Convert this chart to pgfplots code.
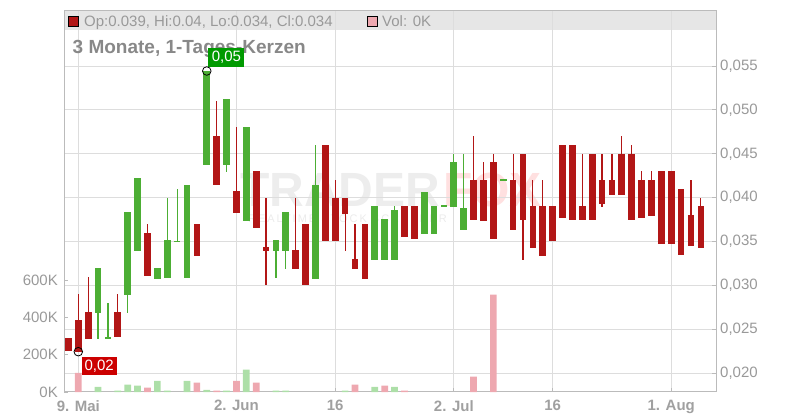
\documentclass[border=0pt]{standalone}
\usepackage{fontspec}
\setmainfont{Liberation Sans}
\usepackage{pgfplots}
\usepackage{pgfplotstable}
\pgfplotsset{compat=1.18}

\definecolor{cred}{HTML}{B21616}
\definecolor{cgreen}{HTML}{4CAE34}
\definecolor{vpink}{HTML}{EEA8B0}
\definecolor{vgreen}{HTML}{ADDFA8}
\definecolor{gridc}{HTML}{DDDDDD}
\definecolor{framec}{HTML}{BBBBBB}
\definecolor{txt}{HTML}{999999}
\definecolor{txtd}{HTML}{A0A0A0}
\definecolor{ttl}{HTML}{888888}
\definecolor{band}{HTML}{E6E6E6}
\definecolor{lblg}{HTML}{009A00}
\definecolor{lblr}{HTML}{CC0000}

% prices in 1/1000 (0.001) units: i open high low close
\pgfplotstableread{
i o h l c
-1 23.99 23.99 22.54 22.54
0 26.04 29.01 22.43 22.43
1 26.95 30.95 23.91 23.91
4 26.95 29.01 24.14 24.14
7 35.93 36.95 31.09 31.09
12 36.99 36.99 33.34 33.34
14 47.02 51.05 41.47 41.47
16 40.78 48.08 38.28 38.28
18 43.03 43.03 36.57 36.57
19 34.37 39.92 30.00 33.94
22 34.02 39.92 31.89 31.89
23 36.99 36.99 30.00 30.00
25 46.00 46.00 35.08 35.08
26 39.92 42.00 35.08 35.08
27 39.92 39.92 33.94 38.16
28 33.00 36.99 31.86 31.86
29 36.99 36.99 30.75 30.75
33 39.04 39.04 35.54 35.54
34 39.04 39.04 35.31 35.31
40 42.00 47.02 37.48 37.48
41 42.00 44.06 37.36 37.36
42 44.06 44.97 35.31 35.31
44 42.00 44.97 36.34 36.34
45 44.97 44.97 32.92 37.48
46 39.04 42.00 34.29 34.29
47 39.04 42.00 33.37 33.37
48 39.04 39.04 35.08 35.08
49 46.00 46.00 37.71 37.71
50 46.00 46.00 37.48 37.48
51 39.04 44.97 37.48 37.48
52 44.97 44.97 37.48 37.48
53 42.00 44.97 38.96 39.30
54 42.00 44.97 40.33 40.33
55 44.97 47.02 40.33 40.33
56 44.97 46.00 37.48 37.48
57 42.00 43.03 37.71 37.71
58 42.00 43.03 37.93 37.93
59 43.03 43.03 34.74 34.74
60 43.03 43.03 34.74 34.74
61 40.98 40.98 33.49 33.49
62 38.01 42.00 34.51 34.51
63 39.04 39.95 34.29 34.29
}\redtab

\pgfplotstableread{
i o h l c
2 26.87 31.97 23.91 31.97
3 23.95 27.98 23.95 24.10
5 28.93 38.36 26.87 38.36
6 33.94 42.23 33.94 42.23
8 30.75 31.97 30.75 31.97
9 30.87 39.92 30.87 35.16
10 34.95 40.98 34.95 35.10
11 30.87 41.43 30.87 41.43
13 43.75 54.43 43.75 54.43
15 43.75 51.27 42.95 51.27
17 37.36 48.08 37.36 48.08
20 33.94 35.16 30.87 35.16
21 33.94 38.36 31.89 38.36
24 30.75 46.00 30.75 41.43
30 32.88 39.04 32.88 39.04
31 32.88 37.56 32.88 37.56
32 32.88 39.04 32.88 38.58
35 35.88 40.64 35.88 40.64
36 35.88 39.04 35.88 39.04
37 39.00 39.15 39.00 39.15
38 38.96 44.97 38.96 44.06
39 36.34 44.97 36.34 38.81
43 41.93 42.07 41.93 42.07
}\greentab

% volume in thousands
\pgfplotstableread{
i v
0 103
7 23
12 50
14 7
16 60
18 50
28 39
31 34
33 7
40 82
42 522
}\volpink

\pgfplotstableread{
i v
2 28
4 7
5 39
6 34
8 60
9 7
11 60
13 12
15 7
17 120
20 7
21 7
27 7
30 28
32 28
}\volgreen

\pgfplotsset{
  geom/.style={at={(64pt,28pt)}, anchor=south west, width=652pt, height=381pt,
    scale only axis, xmin=-1.447, xmax=64.53},
  pricey/.style={ymin=17.834, ymax=61.273},
}

\begin{document}
\begin{tikzpicture}
\path[use as bounding box] (0pt,0pt) rectangle (800pt,420pt);

% watermark
\node[anchor=base west, inner sep=0pt, text=black!7, font=\fontsize{48}{48}\selectfont\bfseries] at (240pt,213pt) {TRADER};
\node[anchor=base west, inner sep=0pt, text=red!12, font=\fontsize{48}{48}\selectfont\bfseries] at (443pt,213pt) {FOX};
\node[anchor=base west, inner sep=0pt, text=black!8, font=\fontsize{11}{11}\selectfont\addfontfeatures{LetterSpace=18}] at (248pt,197pt) {REALTIME STOCK SCREENER};

% base axis: grid, frame, price ticks, dates
\begin{axis}[geom, pricey,
  axis on top,
  axis line style={framec, line width=1pt},
  xtick={0,16,26,38,48,60},
  xticklabels={9. Mai,2. Jun,16,2. Jul,16,1. Aug},
  ytick={20,25,30,35,40,45,50,55},
  yticklabels={{0,020},{0,025},{0,030},{0,035},{0,040},{0,045},{0,050},{0,055}},
  grid=major, major grid style={gridc, line width=1pt},
  tick style={framec, line width=1pt}, major tick length=4pt, tick align=inside,
  xtick pos=left, ytick pos=right, yticklabel pos=right,
  xticklabel style={font=\fontsize{15}{18}\selectfont\bfseries, text=txtd, anchor=north, inner sep=0pt, yshift=-8pt},
  yticklabel style={font=\fontsize{15}{18}\selectfont, text=txt, anchor=west, inner sep=0pt, xshift=4pt},
]
\fill[band] (axis cs:-1.447,59.106) rectangle (axis cs:64.53,61.273);
\end{axis}

% header legend and title
\draw[fill=cred, draw=black, line width=0.8pt] (68.5pt,393.5pt) rectangle (78.5pt,403.5pt);
\node[anchor=base west, inner sep=0pt, text=txt, font=\fontsize{15}{18}\selectfont] at (84pt,393.5pt) {Op:0.039, Hi:0.04, Lo:0.034, Cl:0.034};
\draw[fill=vpink, draw=black, line width=0.8pt] (367pt,393.5pt) rectangle (377pt,403.5pt);
\node[anchor=base west, inner sep=0pt, text=txt, font=\fontsize{15}{18}\selectfont] at (382pt,393.5pt) {Vol: 0K};
\node[anchor=base west, inner sep=0pt, text=ttl, font=\fontsize{19}{21}\selectfont\bfseries] at (72.5pt,366pt) {3 Monate, 1-Tages-Kerzen};

% volume axis
\begin{axis}[geom, ymin=0, ymax=2043,
  axis line style={draw=none},
  xtick=\empty,
  ytick={0,200,400,600}, yticklabels={0K,200K,400K,600K},
  ytick pos=left, tick align=inside, major tick length=4pt,
  tick style={framec, line width=1pt},
  yticklabel style={font=\fontsize{15}{18}\selectfont, text=txt, anchor=east, inner sep=0pt, xshift=-6pt},
]
\addplot[ybar, bar width=6.7pt, bar shift=0pt, fill=vpink, draw=none] table[x=i, y=v] {\volpink};
\addplot[ybar, bar width=6.7pt, bar shift=0pt, fill=vgreen, draw=none] table[x=i, y=v] {\volgreen};
\end{axis}

% candles
\begin{axis}[geom, pricey, hide axis, clip=false]
% wicks
\addplot[draw=none, mark=none, forget plot,
  error bars/.cd, y dir=both, y explicit, error mark=none,
  error bar style={draw=cred, line width=1.2pt}]
  table[x=i, y expr={0.5*(\thisrow{h}+\thisrow{l})},
        y error plus expr={0.5*(\thisrow{h}-\thisrow{l})},
        y error minus expr={0.5*(\thisrow{h}-\thisrow{l})}] {\redtab};
\addplot[draw=none, mark=none, forget plot,
  error bars/.cd, y dir=both, y explicit, error mark=none,
  error bar style={draw=cgreen, line width=1.2pt}]
  table[x=i, y expr={0.5*(\thisrow{h}+\thisrow{l})},
        y error plus expr={0.5*(\thisrow{h}-\thisrow{l})},
        y error minus expr={0.5*(\thisrow{h}-\thisrow{l})}] {\greentab};
% bodies
\addplot[draw=none, mark=none, forget plot,
  error bars/.cd, y dir=both, y explicit, error mark=none,
  error bar style={draw=cred, line width=6.7pt}]
  table[x=i, y expr={0.5*(\thisrow{o}+\thisrow{c})},
        y error plus expr={0.5*abs(\thisrow{o}-\thisrow{c})},
        y error minus expr={0.5*abs(\thisrow{o}-\thisrow{c})}] {\redtab};
\addplot[draw=none, mark=none, forget plot,
  error bars/.cd, y dir=both, y explicit, error mark=none,
  error bar style={draw=cgreen, line width=6.7pt}]
  table[x=i, y expr={0.5*(\thisrow{o}+\thisrow{c})},
        y error plus expr={0.5*abs(\thisrow{o}-\thisrow{c})},
        y error minus expr={0.5*abs(\thisrow{o}-\thisrow{c})}] {\greentab};
% high / low markers
\addplot[only marks, mark=o, mark size=4.3pt, black, line width=0.8pt] coordinates {(13,54.43) (0,22.43)};
\node[fill=lblg, text=white, anchor=south west, inner xsep=3.4pt, inner ysep=3pt, text height=10.7pt, text depth=2.3pt, font=\fontsize{15}{15}\selectfont, xshift=1.5pt, yshift=4pt] at (axis cs:13,54.43) {0,05};
\node[fill=lblr, text=white, anchor=north west, inner xsep=3pt, inner ysep=3pt, text height=10.7pt, text depth=1.6pt, font=\fontsize{15}{15}\selectfont, xshift=3pt, yshift=-5pt] at (axis cs:0,22.43) {0,02};
\end{axis}
\end{tikzpicture}
\end{document}
